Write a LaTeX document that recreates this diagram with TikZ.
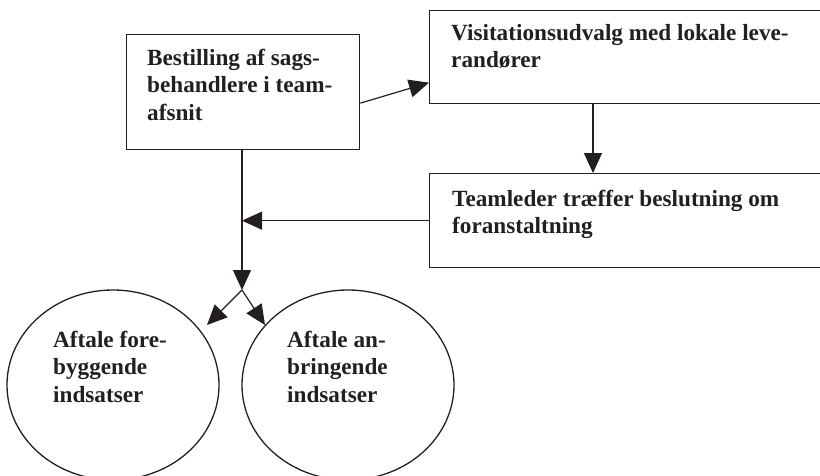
\documentclass[tikz,border=0pt]{standalone}
\usepackage{fontspec}
\setmainfont{Liberation Serif}
\usetikzlibrary{arrows.meta,shapes.geometric}

\definecolor{ink}{RGB}{35,31,32}

\tikzset{
  box/.style={draw=ink, line width=1.3pt, rectangle, inner sep=0pt, anchor=north west},
  oval/.style={draw=ink, line width=1.3pt, ellipse, inner sep=0pt,
               minimum width=212pt, minimum height=190pt},
  txt/.style={anchor=north west, inner sep=0pt, align=left, text=ink,
              font=\fontsize{23.2}{27.5}\selectfont\bfseries},
  arr/.style={draw=ink, line width=1.2pt,
              -{Triangle[length=20pt,width=18pt]}}
}
\newcommand{\tallstrut}{\rule{0pt}{17pt}}

\begin{document}
\begin{tikzpicture}[x=1pt, y=-1pt]
  \useasboundingbox (0,0) rectangle (820,475);

  % process boxes
  \node[box, minimum width=233pt, minimum height=115pt] (bestil) at (126,34) {};
  \node[box, minimum width=400pt, minimum height=93pt]  (visit)  at (429,10) {};
  \node[box, minimum width=400pt, minimum height=94pt]  (team)   at (429,173) {};

  % outcomes
  \node[oval] (foreb) at (113,385) {};
  \node[oval] (anbr)  at (348,385) {};

  % labels
  \node[txt] (bestil-t) at ([xshift=21pt, yshift=-14pt]bestil.north west)
    {\tallstrut Bestilling af sags-\\behandlere i team-\\afsnit};
  \node[txt] (visit-t) at ([xshift=22pt, yshift=-13pt]visit.north west)
    {\tallstrut Visitationsudvalg med lokale leve-\\randører};
  \node[txt] (team-t) at ([xshift=23pt, yshift=-16pt]team.north west)
    {\tallstrut Teamleder træffer beslutning om\\foranstaltning};
  \node[txt] (foreb-t) at ([xshift=-60pt, yshift=55pt]foreb.center)
    {\tallstrut Aftale fore-\\byggende\\indsatser};
  \node[txt] (anbr-t) at ([xshift=-61pt, yshift=55pt]anbr.center)
    {\tallstrut Aftale an-\\bringende\\indsatser};

  % junction and arrow ends
  \coordinate (split) at (242,290);
  \coordinate (to-foreb) at (207,325);
  \coordinate (to-anbr) at (265,325);

  % connectors
  \draw[arr] ([yshift=-11pt]bestil.east) -- ([yshift=-25.5pt]visit.west);
  \draw[arr] ([xshift=164pt]visit.south west) -- ([xshift=164pt]team.north west);
  \draw[arr] ([xshift=116pt]bestil.south west) -- (split);
  \draw[arr] (team.west) -- (team.west -| split);
  \draw[arr] (split) -- (to-foreb);
  \draw[arr] (split) -- (to-anbr);
\end{tikzpicture}
\end{document}
